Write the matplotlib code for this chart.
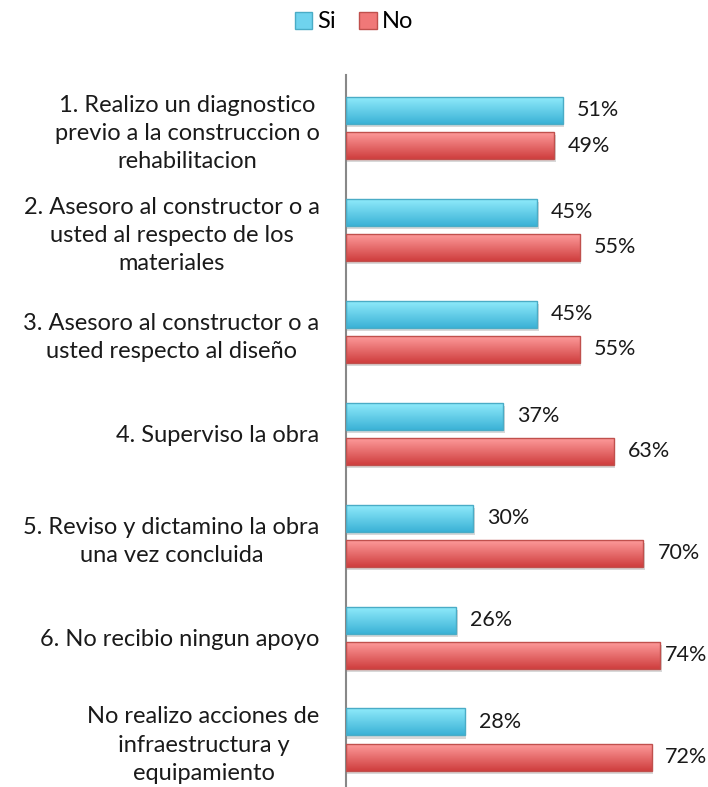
import numpy as np
import matplotlib
matplotlib.use("Agg")
import matplotlib.pyplot as plt
from matplotlib.patches import Rectangle
from matplotlib.colors import LinearSegmentedColormap

categories = [
    "1. Realizo un diagnostico\nprevio a la construccion o\nrehabilitacion",
    "2. Asesoro al constructor o a\nusted al respecto de los\nmateriales",
    "3. Asesoro al constructor o a\nusted respecto al diseño",
    "4. Superviso la obra",
    "5. Reviso y dictamino la obra\nuna vez concluida",
    "6. No recibio ningun apoyo",
    "No realizo acciones de\ninfraestructura y\nequipamiento",
]
si_values = [51, 45, 45, 37, 30, 26, 28]
no_values = [49, 55, 55, 63, 70, 74, 72]
series_names = ["Si", "No"]

plt.rcParams['font.family'] = ['Lato', 'DejaVu Sans']

fig = plt.figure(figsize=(7.08, 7.87), dpi=100)
ax = fig.add_axes([346/708, 0, 1 - 346/708, 1 - 75/787])

y = np.arange(len(categories))
h = 0.265
off = 0.172
XMAX = 85.2

si_cmap = LinearSegmentedColormap.from_list("si", ["#92ECFC", "#3BB2D6"])
no_cmap = LinearSegmentedColormap.from_list("no", ["#FF9E9E", "#CF3E3E"])

def grad_bars(ys, vals, cmap, edge):
    bars = ax.barh(ys, vals, height=h, color="none", edgecolor=edge, linewidth=1.0, zorder=3)
    grad = np.linspace(0, 1, 64).reshape(-1, 1)
    for b in bars:
        x0, y0 = b.get_x(), b.get_y()
        w, hh = b.get_width(), b.get_height()
        ax.add_patch(Rectangle((x0 + 0.35, y0 + 0.03), w, hh, facecolor="#d8d8d8",
                               edgecolor="none", zorder=1))
        im = ax.imshow(grad, cmap=cmap, aspect="auto",
                       extent=(x0, x0 + w, y0 + hh, y0), zorder=2, interpolation="bilinear")
        im.set_clip_path(b)
    return bars

grad_bars(y - off, si_values, si_cmap, "#4AACC6")
grad_bars(y + off, no_values, no_cmap, "#C0504D")

def label(yi, v):
    if v + 3.3 + 10 > XMAX:
        ax.text(XMAX - 0.1, yi, f"{v}%", va="center", ha="right", fontsize=15.5, color="#1a1a1a")
    else:
        ax.text(v + 3.3, yi, f"{v}%", va="center", ha="left", fontsize=15.5, color="#1a1a1a")

for yi, v in zip(y - off, si_values):
    label(yi, v)
for yi, v in zip(y + off, no_values):
    label(yi, v)

ax.set_xlim(0, XMAX)
ax.set_ylim(6.466, -0.52)
ax.set_yticks(y)
ax.set_yticklabels(categories, fontsize=17, linespacing=1.42, ha="right",
                   multialignment="center", color="#1a1a1a")
ax.tick_params(axis="y", length=0, pad=19)
ax.set_xticks([])
for s in ["top", "right", "bottom"]:
    ax.spines[s].set_visible(False)
ax.spines["left"].set_color("#888888")
ax.spines["left"].set_linewidth(1.5)

handles = [Rectangle((0, 0), 1, 1, facecolor="#6FD3EE", edgecolor="#4AACC6"),
           Rectangle((0, 0), 1, 1, facecolor="#F07878", edgecolor="#C0504D")]
fig.legend(handles, series_names, loc="center", bbox_to_anchor=(0.5, 1 - 22/787),
           ncol=2, frameon=False, fontsize=17, handlelength=0.75, handleheight=0.75,
           handletextpad=0.2, columnspacing=1.0)

fig.savefig("out.png", dpi=100)
